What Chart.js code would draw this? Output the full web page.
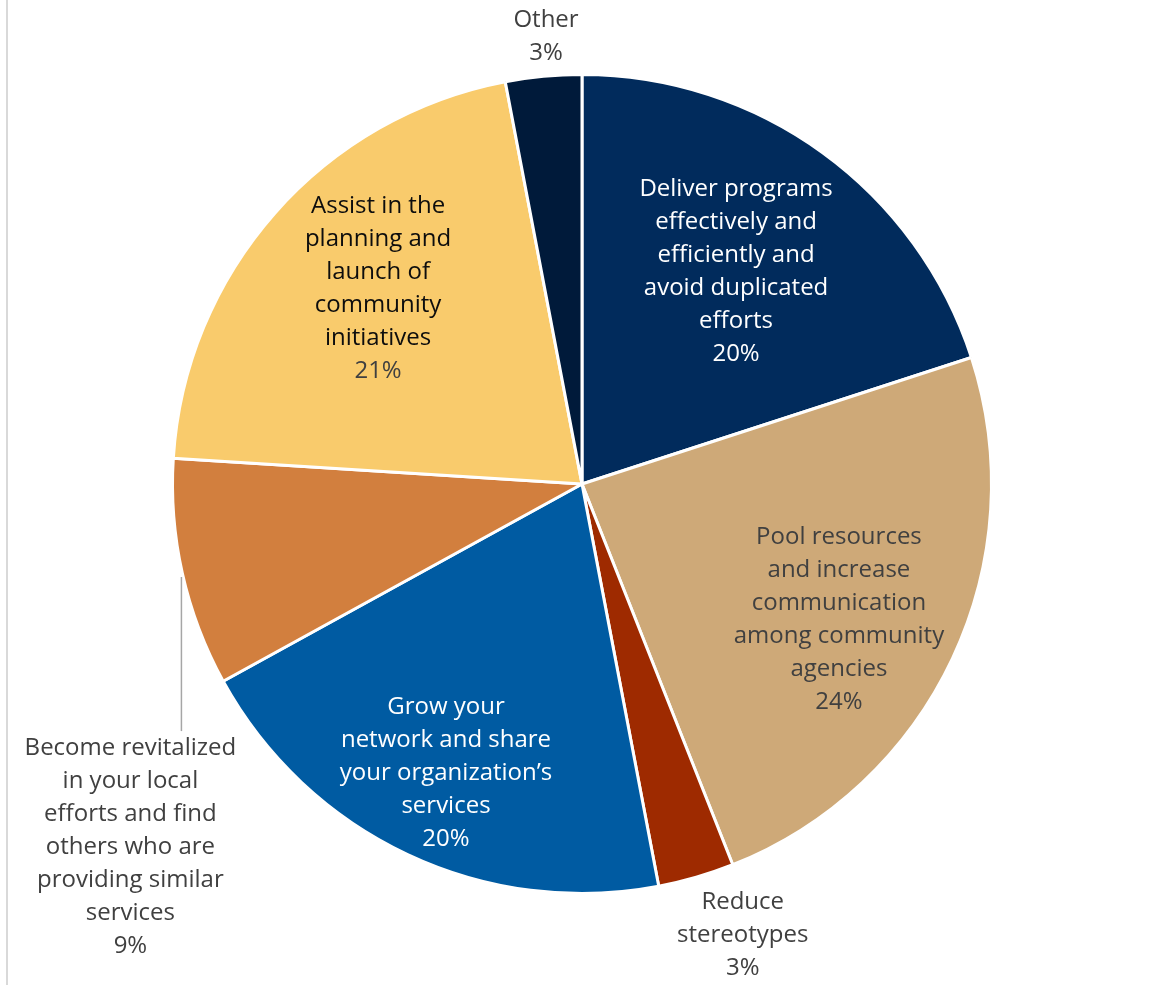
<!DOCTYPE html>
<html>
<head>
<meta charset="utf-8">
<script src="https://cdn.jsdelivr.net/npm/chart.js@4"></script>
<style>
  html, body { margin: 0; padding: 0; background: #fff; }
  #wrap { position: relative; width: 1153px; height: 985px; }
  #edge { position: absolute; left: 6px; top: 0; width: 2px; height: 985px; background: #d9d9d9; }
</style>
</head>
<body>
<div id="wrap">
  <div id="edge"></div>
  <canvas id="pie" width="1153" height="985"></canvas>
</div>
<script>
var categories = [
  ["Deliver programs", "effectively and", "efficiently and", "avoid duplicated", "efforts"],
  ["Pool resources", "and increase", "communication", "among community", "agencies"],
  ["Reduce", "stereotypes"],
  ["Grow your", "network and share", "your organization\u2019s", "services"],
  ["Become revitalized", "in your local", "efforts and find", "others who are", "providing similar", "services"],
  ["Assist in the", "planning and", "launch of", "community", "initiatives"],
  ["Other"]
];
var shares = [20, 24, 3, 20, 9, 21, 3];

var sliceColors = ["#012b5c", "#cea978", "#9e2a00", "#005ba2", "#d27f3e", "#f9cb6c", "#001a3a"];
var nameColors  = ["#ffffff", "#404040", "#404040", "#ffffff", "#404040", "#0d0d0d", "#404040"];
var pctColors   = ["#ffffff", "#404040", "#404040", "#ffffff", "#404040", "#404040", "#404040"];
// label anchor: distance as a fraction of radius, angle (deg from top) or null for mid-angle
var labelPos = [
  { r: 0.64, a: null },
  { r: 0.71, a: 117.9 },
  { r: 1.17, a: 160.4 },
  { r: 0.78, a: null },
  { r: 1.415, a: 231.2, leader: true },
  { r: 0.69, a: 313.8 },
  { r: 1.095, a: 355.4 }
];

var LINE_H = 33;

var sliceLabels = {
  id: "sliceLabels",
  afterDatasetsDraw: function(chart) {
    var ctx = chart.ctx;
    var meta = chart.getDatasetMeta(0);
    ctx.save();
    ctx.font = "24px 'Open Sans'";
    ctx.textAlign = "center";
    ctx.textBaseline = "middle";
    meta.data.forEach(function(arc, i) {
      var p = labelPos[i];
      var ang = p.a === null ? (arc.startAngle + arc.endAngle) / 2 : (p.a - 90) * Math.PI / 180;
      var cx = arc.x + Math.cos(ang) * arc.outerRadius * p.r;
      var cy = arc.y + Math.sin(ang) * arc.outerRadius * p.r;
      var lines = categories[i];
      var n = lines.length + 1;
      var top = cy - (n - 1) * LINE_H / 2;
      lines.forEach(function(t, k) {
        ctx.fillStyle = nameColors[i];
        ctx.fillText(t, cx, top + k * LINE_H);
      });
      ctx.fillStyle = pctColors[i];
      ctx.fillText(shares[i] + "%", cx, top + lines.length * LINE_H);

      if (p.leader) {
        var lx = cx + 51;
        var dx = lx - arc.x;
        var edgeY = arc.y + Math.sqrt(arc.outerRadius * arc.outerRadius - dx * dx) + 8;
        ctx.strokeStyle = "#a6a6a6";
        ctx.lineWidth = 1.5;
        ctx.beginPath();
        ctx.moveTo(lx, edgeY);
        ctx.lineTo(lx, top - 17);
        ctx.stroke();
      }
    });
    ctx.restore();
  }
};

new Chart(document.getElementById("pie"), {
  type: "pie",
  data: {
    labels: categories.map(function(c) { return c.join(" "); }),
    datasets: [{
      data: shares,
      backgroundColor: sliceColors,
      borderColor: "#ffffff",
      borderWidth: 3
    }]
  },
  options: {
    responsive: false,
    animation: false,
    layout: { padding: { top: 73, bottom: 90, left: 171, right: 160 } },
    plugins: {
      legend: { display: false },
      tooltip: { enabled: false }
    }
  },
  plugins: [sliceLabels]
});
</script>
</body>
</html>
